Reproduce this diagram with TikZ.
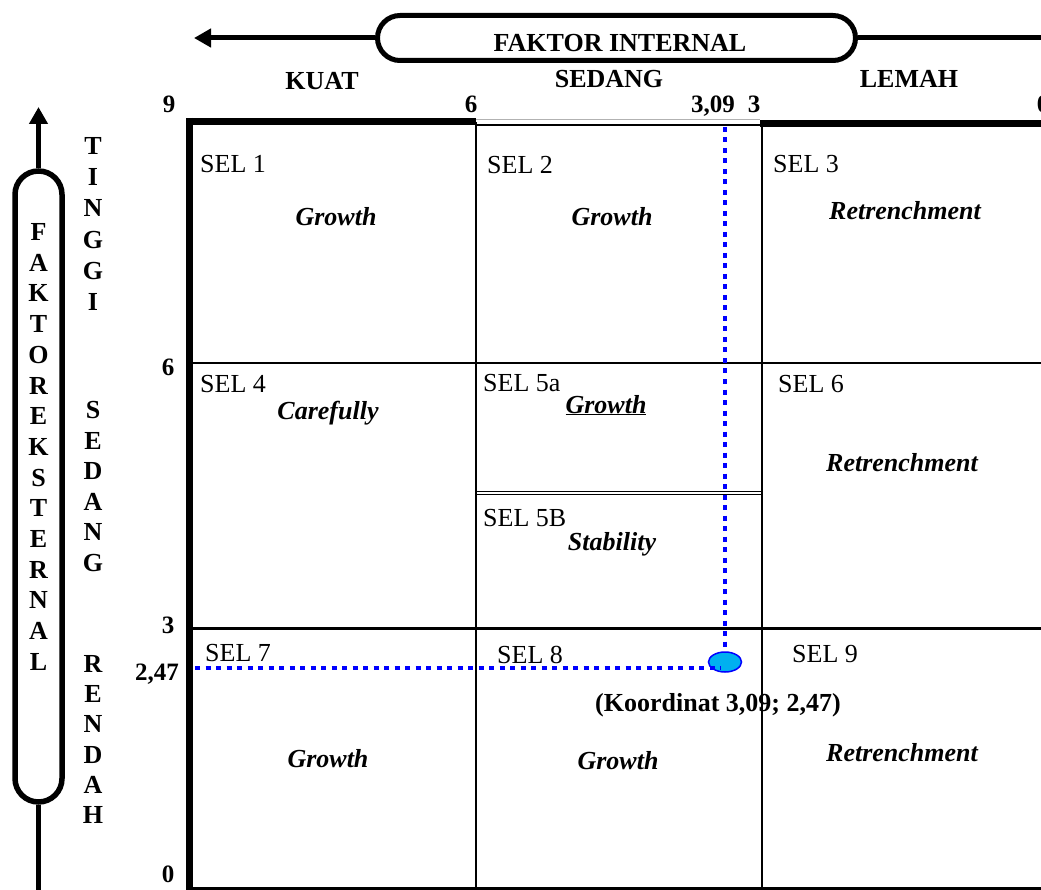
\documentclass[tikz,border=0pt]{standalone}
\usepackage{fontspec}
\setmainfont{Liberation Serif}
\usetikzlibrary{arrows.meta,shapes.geometric,shapes.misc}
\definecolor{ptfill}{RGB}{0,176,240}
\definecolor{dotblue}{RGB}{0,0,255}
\begin{document}
\begin{tikzpicture}[x=1pt,y=-1pt,
  lab/.style={font=\fontsize{26}{31}\selectfont\bfseries, inner sep=0, anchor=base},
  num/.style={font=\fontsize{25}{30}\selectfont\bfseries, inner sep=0, anchor=base},
  sel/.style={font=\fontsize{26}{31}\selectfont, inner sep=0, anchor=base west},
  strat/.style={font=\fontsize{26}{31}\selectfont\bfseries\itshape, inner sep=0, anchor=base},
  vl/.style={font=\fontsize{26}{31}\selectfont\bfseries, inner sep=0},
  axisline/.style={line width=5pt},
  gthin/.style={line width=2pt},
  gthick/.style={line width=7pt},
  dots/.style={dotblue, line width=4.5pt, dash pattern=on 5pt off 5.5pt}]
\useasboundingbox (0,0) rectangle (1041,890);

% grid
\draw[gthick] (189,118) -- (189,892);
\draw[gthick] (186,122) -- (476,122);
\draw[line width=1pt, gray!60] (476,120) -- (760,120);
\draw[gthin] (476,125) -- (762,125);
\draw[gthick] (760,123.5) -- (1045,123.5);
\draw[gthin] (475.5,122) -- (475.5,888);
\draw[line width=2.5pt] (762,122) -- (762,888);
\draw[gthin] (189,363.5) -- (1045,363.5);
\draw[line width=2.5pt] (189,628.5) -- (1045,628.5);
\draw[line width=1.2pt] (475.5,491.5) -- (762,491.5);
\draw[line width=1.2pt] (475.5,494.5) -- (762,494.5);
\draw[line width=4pt] (186,888.5) -- (1045,888.5);

% top axis
\node[rounded rectangle, draw, line width=5pt, minimum width=478, minimum height=45, inner sep=0] (fi) at (616.5,38) {};
\node[lab] (fitxt) at (620,52) {FAKTOR INTERNAL};
\coordinate (ftip) at (194,38);
\coordinate (fright) at (1048,38);
\draw[axisline, -{Triangle[length=17pt,width=18pt]}] (fi.west) -- (ftip);
\draw[axisline] (fi.east) -- (fright);

\node[lab] (kuat) at (322,90) {KUAT};
\node[lab] (sedang) at (609,88) {SEDANG};
\node[lab] (lemah) at (909,88) {LEMAH};
\node[num] (n9) at (169,113) {9};
\node[num] (n6) at (471,113) {6};
\node[num] (n309) at (713,113) {3,09};
\node[num] (n3) at (754,113) {3};
\node[num] (n0) at (1043,113) {0};

% left axis
\node[rectangle, draw, line width=5.5pt, rounded corners=23.5pt, minimum width=47, minimum height=631, inner sep=0] (fe) at (38.5,486.5) {};
\coordinate (etip) at (38.5,107);
\coordinate (ebot) at (38.5,895);
\draw[axisline, -{Triangle[length=17pt,width=18pt]}] (fe.north) -- (etip);
\draw[axisline] (fe.south) -- (ebot);
\foreach \l [count=\i from 0] in {F,A,K,T,O,R,E,K,S,T,E,R,N,A,L}
  \node[vl] (fe\i) at (38.5,232+30.7*\i) {\l};
\foreach \l [count=\i from 0] in {T,I,N,G,G,I}
  \node[vl] (ti\i) at (93,146+31.2*\i) {\l};
\foreach \l [count=\i from 0] in {S,E,D,A,N,G}
  \node[vl] (se\i) at (93,410+30.6*\i) {\l};
\foreach \l [count=\i from 0] in {R,E,N,D,A,H}
  \node[vl] (re\i) at (93,664+30.2*\i) {\l};

\node[num] (m6) at (168,375) {6};
\node[num] (m3) at (168,633) {3};
\node[num] (m247) at (157,680) {2,47};
\node[num] (m0) at (168,882) {0};

% cells
\node[sel] (s1) at (200,173) {SEL 1};
\node[strat] (g1) at (336,226) {Growth};
\node[sel] (s2) at (487,174) {SEL 2};
\node[strat] (g2) at (612,226) {Growth};
\node[sel] (s3) at (773,173) {SEL 3};
\node[strat] (r3) at (905,220) {Retrenchment};
\node[sel] (s4) at (200,392) {SEL 4};
\node[strat] (c4) at (328,419) {Carefully};
\node[sel] (s5a) at (483,391) {SEL 5a};
\node[strat] (g5a) at (606,413) {\underline{Growth}};
\node[sel] (s5b) at (483,526) {SEL 5B};
\node[strat] (st5b) at (612,550) {Stability};
\node[sel] (s6) at (778,392) {SEL 6};
\node[strat] (r6) at (902,471) {Retrenchment};
\node[sel] (s7) at (205,661) {SEL 7};
\node[strat] (g7) at (328,767) {Growth};
\node[sel] (s8) at (497,663) {SEL 8};
\node[strat] (g8) at (618,769) {Growth};
\node[sel] (s9) at (792,662) {SEL 9};
\node[strat] (r9) at (902,761) {Retrenchment};

% point
\node[ellipse, draw=dotblue, fill=ptfill, line width=1.5pt, minimum width=33, minimum height=20, inner sep=0] (pt) at (725,662) {};
\coordinate (vtop) at (725,127);
\coordinate (hstart) at (195,668);
\coordinate (hend) at (721,668);
\draw[dots] (vtop) -- (pt.north);
\draw[dots] (hstart) -- (hend);
\node[lab] (koord) at (718,711) {(Koordinat 3,09; 2,47)};
\end{tikzpicture}
\end{document}
